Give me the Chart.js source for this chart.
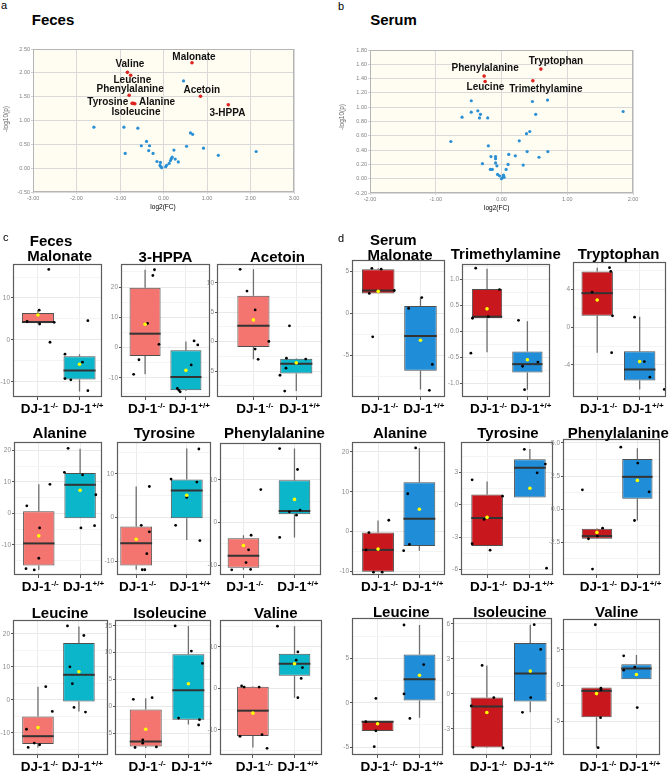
<!DOCTYPE html>
<html>
<head>
<meta charset="utf-8">
<script src="https://cdn.jsdelivr.net/npm/chart.js@4.4.1/dist/chart.umd.min.js"></script>
<style>
  html, body { margin: 0; padding: 0; background: #fff; }
  #page { position: relative; width: 669px; height: 772px; overflow: hidden;
          font-family: "Liberation Sans", Arial, sans-serif; }
  #page canvas { position: absolute; }
  .t { position: absolute; white-space: nowrap; color: #000; }
</style>
</head>
<body>
<div id="page"></div>
<script>
// ---- volcano data: [log2(FC), -log10(p)] ----
const fecesOther = [[-1.60,0.86],[-0.91,0.86],[-0.59,0.84],[-0.88,0.31],[-0.51,0.47],[-0.39,0.56],[-0.32,0.47],
  [-0.34,0.37],[-0.24,0.31],[-0.15,0.14],[-0.07,0.12],[-0.08,0.06],[-0.06,0.03],[-0.04,0.01],[0.05,0.03],
  [0.07,0.06],[0.13,0.10],[0.16,0.16],[0.18,0.20],[0.20,0.23],[0.24,0.38],[0.27,0.19],[0.34,0.13],[0.46,1.83],
  [0.53,0.46],[0.62,0.74],[0.67,0.71],[0.92,0.42],[1.26,0.27],[2.13,0.35]];
const fecesSig = [[0.655,2.21],[-0.83,2.01],[-0.755,1.95],[-0.79,1.53],[-0.72,1.36],[-0.66,1.35],[-0.69,1.36],[0.85,1.51],[1.49,1.33]];
const fecesSigNames = ['Malonate','Valine','Leucine','Phenylalanine','Tyrosine','Alanine','Isoleucine','Acetoin','3-HPPA'];
const fecesXTicks = [-3,-2,-1,0,1,2,3];
const fecesYTicks = [-0.5,0,0.5,1,1.5,2,2.5];

const serumOther = [[-0.77,0.52],[-0.60,0.86],[-0.46,1.09],[-0.46,0.93],[-0.36,0.95],[-0.32,0.90],[-0.335,0.85],
  [-0.21,0.85],[-0.20,0.46],[-0.29,0.21],[-0.16,0.31],[-0.09,0.31],[-0.09,0.28],[-0.09,0.22],[-0.07,0.18],
  [-0.17,0.13],[-0.14,0.13],[-0.06,0.06],[-0.03,0.04],[0.00,0.00],[0.02,0.02],[0.03,0.05],[0.04,0.02],[0.07,0.13],
  [0.11,0.34],[0.10,0.20],[0.21,0.32],[0.27,0.53],[0.33,0.19],[0.39,0.38],[0.38,0.63],[0.43,0.66],[0.47,1.08],
  [0.52,0.90],[0.57,0.30],[0.70,1.10],[0.705,0.38],[1.85,0.94]];
const serumSig = [[-0.264,1.435],[-0.249,1.36],[0.599,1.533],[0.477,1.369]];
const serumSigNames = ['Phenylalanine','Leucine','Tryptophan','Trimethylamine'];
const serumXTicks = [-2,-1,0,1,2];
const serumYTicks = [-0.2,0,0.2,0.4,0.6,0.8,1.0,1.2,1.4,1.6,1.8];

// ---- box plots: per group [lowWhisker, q1, median, q3, highWhisker, mean], KO then WT ----
const groupBase = 'DJ-1';
const groupSup = ['-/-', '+/+'];

const fMalonateBox = [[3.8,4.0,4.3,6.4,7.1,5.95],[-12.3,-9.4,-7.3,-3.9,-3.4,-5.8]];
const fMalonatePts = [[1.26,16.8],[1.03,7.1],[0.74,4.4],[1.04,3.8],[1.39,4.2],[1.29,-0.55],[1.65,-3.4],[2.07,-5.3],[1.65,-9.2],[1.79,-9.5],[2.2,4.6],[2.2,-12.1]];
const fMalonateTicks = [10,0,-10];

const fHppaBox = [[-8.8,-2.75,4.6,19.8,25.7,7.7],[-14.3,-14.1,-9.7,-0.9,2.0,-7.5]];
const fHppaPts = [[1.23,25.7],[1.19,23.8],[1.06,8.0],[1.34,1.1],[0.85,-4.0],[0.72,-8.8],[2.2,2.2],[2.29,0.9],[2.13,-5.7],[1.79,-13.5],[1.83,-14.1],[1.86,-14.6]];
const fHppaTicks = [20,10,0,-10];

const fAcetoinBox = [[-3.0,-0.9,2.7,7.8,12.3,3.7],[-8.4,-5.4,-3.75,-2.9,-2.8,-3.6]];
const fAcetoinPts = [[0.69,12.3],[0.85,8.6],[1.04,5.4],[1.36,0.05],[1.04,-1.25],[1.11,-3.0],[1.84,2.7],[1.62,-5.7],[1.76,-4.5],[1.77,-2.8],[2.22,-2.95],[1.73,-8.4]];
const fAcetoinTicks = [10,5,0,-5];

const fAlanineBox = [[-17.9,-16.5,-9.5,0.7,9.2,-7.1],[-1.5,-1.5,9.05,12.8,20.5,7.3]];
const fAlaninePts = [[1.27,9.2],[0.71,2.4],[1.02,-4.6],[1.0,-14.2],[0.69,-17.5],[0.89,-17.9],[1.71,20.6],[1.62,13.0],[2.06,12.2],[2.38,5.9],[2.02,-4.6],[2.35,-3.9]];
const fAlanineTicks = [20,10,0,-10];

const fTyrosineBox = [[-12.0,-11.0,-5.9,-2.1,7.1,-5.0],[-5.2,-0.2,6.2,8.7,15.8,5.1]];
const fTyrosinePts = [[1.26,7.1],[1.10,-1.8],[1.26,-3.3],[1.21,-8.3],[1.12,-12.0],[1.17,-12.0],[1.69,8.8],[2.2,8.1],[2.24,15.7],[2.0,4.6],[1.78,-1.8],[2.26,-5.3]];
const fTyrosineTicks = [10,0,-10];

const fPheBox = [[-11.1,-10.6,-7.8,-3.7,-3.0,-5.4],[-3.5,1.9,2.7,9.9,17.3,5.4]];
const fPhePts = [[1.34,7.7],[1.15,-3.0],[1.10,-6.4],[1.05,-9.4],[0.77,-11.1],[1.14,-11.0],[1.71,17.3],[2.06,12.4],[1.9,2.5],[2.11,2.9],[2.04,1.7],[1.71,-3.5]];
const fPheTicks = [10,0,-10];

const fLeucineBox = [[-14.4,-13.4,-11.0,-5.05,4.0,-8.4],[-3.5,-0.5,7.6,17.2,22.2,8.5]];
const fLeucinePts = [[1.19,4.0],[1.35,-3.5],[0.72,-8.9],[0.91,-13.1],[1.04,-13.6],[0.76,-14.4],[1.72,22.4],[2.12,19.5],[1.78,10.0],[1.84,4.9],[1.88,-2.3],[2.16,-3.7]];
const fLeucineTicks = [20,10,0,-10];

const fIsoBox = [[-7.8,-7.5,-6.6,-0.6,1.5,-4.3],[-3.4,-2.5,3.0,9.7,15.0,4.2]];
const fIsoPts = [[0.71,1.3],[1.15,1.6],[0.93,-6.3],[0.93,-6.9],[0.75,-7.7],[1.25,-7.6],[1.69,15.0],[2.07,10.3],[2.33,8.0],[1.77,-2.2],[2.26,-2.5],[2.24,-3.5]];
const fIsoTicks = [15,10,5,0,-5];

const fValineBox = [[-14.3,-11.5,-5.4,0.4,0.5,-6.0],[-2.25,3.05,5.95,8.35,15.0,5.95]];
const fValinePts = [[0.73,0.56],[0.79,0.3],[1.15,0.3],[0.69,-11.6],[1.22,-11.2],[1.34,-14.5],[1.59,15.0],[2.08,8.8],[2.04,6.8],[2.19,5.0],[2.16,2.4],[2.08,-2.25]];
const fValineTicks = [10,0,-10];

const sMalonateBox = [[2.4,2.4,2.75,5.3,5.4,2.65],[-9.1,-6.85,-2.7,0.9,1.9,-3.2]];
const sMalonatePts = [[0.85,5.4],[1.07,5.3],[1.38,2.75],[0.79,2.4],[0.87,-2.8],[2.03,1.9],[1.72,0.6],[2.28,-6.1],[2.21,-9.2]];
const sMalonateTicks = [5,0,-5];

const sTmaBox = [[-0.40,0.25,0.28,0.81,1.2,0.43],[-1.12,-0.79,-0.63,-0.39,0.19,-0.545]];
const sTmaPts = [[0.72,1.21],[1.31,0.80],[0.64,0.25],[1.03,0.28],[0.6,-0.42],[1.78,0.21],[2.26,-0.59],[1.88,-0.67],[1.93,-1.12]];
const sTmaTicks = [1.0,0.5,0,-0.5,-1.0];

const sTrpBox = [[-2.7,1.2,3.6,5.9,6.3,2.87],[-6.6,-5.65,-4.5,-2.55,1.1,-3.65]];
const sTrpPts = [[1.29,6.3],[1.32,5.9],[0.88,3.7],[1.36,1.2],[1.34,-2.7],[1.88,1.06],[2.11,-3.65],[2.24,-5.3],[2.58,-6.6]];
const sTrpTicks = [4,0,-4];

const sAlanineBox = [[-10.1,-10.1,-4.6,-0.25,2.8,-4.4],[-4.8,-3.6,3.2,12.4,21.0,5.6]];
const sAlaninePts = [[0.78,-0.25],[1.26,2.85],[0.71,-4.6],[0.89,-10.2],[1.1,-10.2],[1.91,21.0],[1.72,9.5],[1.76,-3.2],[1.62,-4.8]];
const sAlanineTicks = [20,10,0,-10];

const sTyrosineBox = [[-3.82,-3.82,-1.21,0.96,2.17,-1.15],[0.68,0.68,3.45,4.25,5.2,1.55]];
const sTyrosinePts = [[0.65,2.33],[1.36,0.81],[0.93,-1.34],[0.65,-3.6],[1.07,-4.2],[1.87,5.16],[2.36,3.79],[2.17,2.98],[2.39,-5.87]];
const sTyrosineTicks = [3,0,-3,-6];

const sPheBox = [[-2.24,-2.24,-2.04,-1.49,-1.44,-1.76],[-0.86,0.78,2.44,3.78,4.61,2.17]];
const sPhePts = [[1.14,-1.44],[1.01,-2.04],[0.79,-2.24],[0.64,1.46],[0.89,-4.53],[1.59,4.68],[2.01,3.48],[2.29,1.31],[1.93,-0.86]];
const sPheTicks = [5.0,2.5,0,-2.5];

const sLeucineBox = [[-3.18,-3.18,-2.13,-2.06,-2.06,-2.36],[-1.69,0.26,2.66,5.43,8.76,3.1]];
const sLeucinePts = [[0.72,-2.13],[0.96,0.49],[0.96,-3.15],[0.92,-4.94],[1.63,8.76],[2.1,4.3],[1.63,1.0],[1.77,-1.76]];
const sLeucineTicks = [5,0,-5];

const sIsoBox = [[-4.64,-4.6,-1.09,-0.32,2.44,-1.6],[-1.58,-0.66,1.75,4.36,5.93,1.95]];
const sIsoPts = [[0.89,2.44],[1.16,-0.32],[0.64,-1.03],[0.68,-4.58],[1.37,-4.64],[2.09,5.93],[2.24,3.81],[2.01,-0.32],[1.82,-1.58]];
const sIsoTicks = [6,3,0,-3];

const sValineBox = [[-8.73,-4.46,-0.75,-0.28,-0.28,-1.13],[0.89,0.89,2.39,3.0,4.3,1.55]];
const sValinePts = [[0.97,8.54],[1.11,-0.38],[1.11,-0.61],[1.1,-4.51],[1.04,-8.73],[1.68,4.18],[1.68,2.16],[1.96,2.58],[2.02,-3.1]];
const sValineTicks = [5,0,-5];

// ---- layout (pixels) ----
const page = document.getElementById('page');
Chart.defaults.font.family = '"Liberation Sans", Arial, sans-serif';

const palC = ['#F4746F', '#0BB5CA'];
const palD = ['#C8171D', '#1F8DD8'];

// L,T,R,B = panel frame; x0,x1 = x range; w = box width; y0,y1 = y range; tx,ty = title centre / baseline
const boxCharts = [
  { title: 'Malonate', box: fMalonateBox, pts: fMalonatePts, ticks: fMalonateTicks, dec: 0, pal: palC, L: 13, T: 264, R: 102, B: 397, x0: 0.40, x1: 2.54, w: 0.77, y0: -13.6, y1: 18.1, tx: 59.7, ty: 261 },
  { title: '3-HPPA', box: fHppaBox, pts: fHppaPts, ticks: fHppaTicks, dec: 0, pal: palC, L: 121, T: 264, R: 210, B: 397, x0: 0.41, x1: 2.59, w: 0.76, y0: -16.3, y1: 27.6, tx: 165.5, ty: 262 },
  { title: 'Acetoin', box: fAcetoinBox, pts: fAcetoinPts, ticks: fAcetoinTicks, dec: 0, pal: palC, L: 217, T: 264, R: 322, B: 397, x0: 0.15, x1: 2.6, w: 0.75, y0: -9.4, y1: 13.2, tx: 277.5, ty: 262 },
  { title: 'Alanine', box: fAlanineBox, pts: fAlaninePts, ticks: fAlanineTicks, dec: 0, pal: palC, L: 14, T: 442, R: 102, B: 575, x0: 0.40, x1: 2.53, w: 0.76, y0: -19.5, y1: 22.6, tx: 59.7, ty: 437.7 },
  { title: 'Tyrosine', box: fTyrosineBox, pts: fTyrosinePts, ticks: fTyrosineTicks, dec: 0, pal: palC, L: 117, T: 442, R: 211, B: 575, x0: 0.62, x1: 2.48, w: 0.63, y0: -13.2, y1: 17.3, tx: 164.5, ty: 437.7 },
  { title: 'Phenylalanine', box: fPheBox, pts: fPhePts, ticks: fPheTicks, dec: 0, pal: palC, L: 220, T: 443, R: 321, B: 575, x0: 0.54, x1: 2.52, w: 0.62, y0: -12.3, y1: 18.6, tx: 274.5, ty: 437.7 },
  { title: 'Leucine', box: fLeucineBox, pts: fLeucinePts, ticks: fLeucineTicks, dec: 0, pal: palC, L: 13, T: 620, R: 108, B: 755, x0: 0.39, x1: 2.71, w: 0.77, y0: -16.7, y1: 24.2, tx: 60, ty: 617.3 },
  { title: 'Isoleucine', box: fIsoBox, pts: fIsoPts, ticks: fIsoTicks, dec: 0, pal: palC, L: 115, T: 620, R: 211, B: 755, x0: 0.28, x1: 2.53, w: 0.75, y0: -9.1, y1: 16.1, tx: 170, ty: 617.3 },
  { title: 'Valine', box: fValineBox, pts: fValinePts, ticks: fValineTicks, dec: 0, pal: palC, L: 220, T: 620, R: 322, B: 755, x0: 0.21, x1: 2.66, w: 0.76, y0: -16.1, y1: 16.5, tx: 275.8, ty: 617.3 },
  { title: 'Malonate', box: sMalonateBox, pts: sMalonatePts, ticks: sMalonateTicks, dec: 0, pal: palD, L: 352, T: 260, R: 445, B: 397, x0: 0.38, x1: 2.58, w: 0.77, y0: -10.0, y1: 6.4, tx: 400, ty: 259.3 },
  { title: 'Trimethylamine', box: sTmaBox, pts: sTmaPts, ticks: sTmaTicks, dec: 1, pal: palD, L: 462, T: 264, R: 550, B: 397, x0: 0.38, x1: 2.56, w: 0.75, y0: -1.26, y1: 1.29, tx: 505.8, ty: 258.5 },
  { title: 'Tryptophan', box: sTrpBox, pts: sTrpPts, ticks: sTrpTicks, dec: 0, pal: palD, L: 573, T: 262, R: 666, B: 397, x0: 0.43, x1: 2.62, w: 0.74, y0: -7.4, y1: 6.9, tx: 618.7, ty: 258.5 },
  { title: 'Alanine', box: sAlanineBox, pts: sAlaninePts, ticks: sAlanineTicks, dec: 0, pal: palD, L: 352, T: 442, R: 445, B: 575, x0: 0.37, x1: 2.62, w: 0.77, y0: -10.9, y1: 22.5, tx: 400, ty: 438 },
  { title: 'Tyrosine', box: sTyrosineBox, pts: sTyrosinePts, ticks: sTyrosineTicks, dec: 0, pal: palD, L: 461, T: 442, R: 553, B: 575, x0: 0.39, x1: 2.54, w: 0.74, y0: -6.5, y1: 5.84, tx: 508, ty: 438 },
  { title: 'Phenylalanine', box: sPheBox, pts: sPhePts, ticks: sPheTicks, dec: 1, pal: palD, L: 563, T: 439, R: 660, B: 575, x0: 0.16, x1: 2.56, w: 0.75, y0: -4.98, y1: 5.3, tx: 618.3, ty: 438 },
  { title: 'Leucine', box: sLeucineBox, pts: sLeucinePts, ticks: sLeucineTicks, dec: 0, pal: palD, L: 352, T: 618, R: 443, B: 755, x0: 0.39, x1: 2.56, w: 0.76, y0: -5.88, y1: 9.55, tx: 401.3, ty: 617 },
  { title: 'Isoleucine', box: sIsoBox, pts: sIsoPts, ticks: sIsoTicks, dec: 0, pal: palD, L: 453, T: 618, R: 552, B: 755, x0: 0.22, x1: 2.5, w: 0.75, y0: -5.24, y1: 6.5, tx: 510, ty: 617 },
  { title: 'Valine', box: sValineBox, pts: sValinePts, ticks: sValineTicks, dec: 0, pal: palD, L: 563, T: 619, R: 660, B: 755, x0: 0.16, x1: 2.59, w: 0.76, y0: -9.76, y1: 9.35, tx: 616.7, ty: 617 }
];

// label offsets (px) from each significant point to the centre of its label
const fecesLabelOff = [[2,-6.3],[2.5,-8.7],[1.7,3.7],[1,-7],[-24.4,-2.1],[22.2,-2.5],[2.5,8.4],[1.3,-6.7],[-0.9,7.3]];
const serumLabelOff = [[1,-8.8],[0.3,5.4],[15.1,-8.5],[13,7.1]];

// ---- helpers ----
function addText(str, x, base, size, bold, align) {
  const d = document.createElement('div');
  d.className = 't';
  d.textContent = str;
  d.style.fontSize = size + 'px';
  d.style.lineHeight = size + 'px';
  d.style.fontWeight = bold ? 'bold' : 'normal';
  d.style.top = (base - 0.8465 * size) + 'px';
  d.style.left = x + 'px';
  if (align !== 'left') d.style.transform = 'translateX(-50%)';
  page.appendChild(d);
}
function addRotated(str, cx, cy, size) {
  const d = document.createElement('div');
  d.className = 't';
  d.textContent = str;
  d.style.fontSize = size + 'px';
  d.style.lineHeight = size + 'px';
  d.style.color = '#666';
  d.style.left = cx + 'px';
  d.style.top = cy + 'px';
  d.style.transform = 'translate(-50%,-50%) rotate(-90deg)';
  page.appendChild(d);
}
function canvasAt(L, T, R, B, pad) {
  const cv = document.createElement('canvas');
  const W = R - L + pad.l + pad.r, H = B - T + pad.t + pad.b;
  cv.width = W; cv.height = H;
  cv.style.left = (L - pad.l) + 'px';
  cv.style.top = (T - pad.t) + 'px';
  cv.style.width = W + 'px';
  cv.style.height = H + 'px';
  page.appendChild(cv);
  return cv;
}

// ---- volcano plots ----
function volcano(other, sig, names, offs, xt, yt, L, T, R, B) {
  const pad = { l: 30, t: 8, r: 10, b: 14 };
  const cv = canvasAt(L, T, R, B, pad);
  const fmt = v => Number(v).toFixed(2);
  const volPlugin = {
    id: 'vol',
    beforeDraw(chart) {
      const a = chart.chartArea, c = chart.ctx;
      c.save(); c.fillStyle = '#FFFDF1';
      c.fillRect(a.left, a.top, a.right - a.left, a.bottom - a.top);
      c.restore();
    },
    afterDatasetsDraw(chart) {
      const c = chart.ctx, xs = chart.scales.x, ys = chart.scales.y;
      c.save();
      c.font = 'bold 10px "Liberation Sans", Arial, sans-serif';
      c.fillStyle = '#111';
      c.textAlign = 'center';
      c.textBaseline = 'alphabetic';
      sig.forEach((p, i) => {
        const px = xs.getPixelForValue(p[0]) + offs[i][0];
        const py = ys.getPixelForValue(p[1]) + offs[i][1] + 3.6;
        c.fillText(names[i], px, py);
      });
      c.restore();
    },
    afterDraw(chart) {
      const a = chart.chartArea, c = chart.ctx;
      c.save(); c.strokeStyle = '#b5b5b5'; c.lineWidth = 1;
      c.strokeRect(a.left + 0.5, a.top + 0.5, a.right - a.left - 1, a.bottom - a.top - 1);
      c.restore();
    }
  };
  new Chart(cv, {
    type: 'scatter',
    data: { datasets: [
      { data: other.map(p => ({ x: p[0], y: p[1] })), backgroundColor: '#2A8FD4', pointRadius: 1.6, pointBorderWidth: 0 },
      { data: sig.map(p => ({ x: p[0], y: p[1] })), backgroundColor: '#E0221E', pointRadius: 1.8, pointBorderWidth: 0 }
    ] },
    options: {
      responsive: false, animation: false, events: [],
      layout: { padding: { top: pad.t, right: pad.r, left: 0, bottom: 0 } },
      plugins: { legend: { display: false }, tooltip: { enabled: false } },
      scales: {
        x: {
          type: 'linear', min: xt[0], max: xt[xt.length - 1],
          afterBuildTicks: a => { a.ticks = xt.map(v => ({ value: v })); },
          afterFit: a => { a.height = pad.b; a.paddingLeft = 0; a.paddingRight = 0; },
          ticks: { callback: fmt, font: { size: 5.5 }, color: '#808080', padding: 1, maxRotation: 0, autoSkip: false },
          grid: { color: '#d9d9d9', lineWidth: 1, tickLength: 2, tickColor: '#cfcfcf' },
          border: { display: false }
        },
        y: {
          type: 'linear', min: yt[0], max: yt[yt.length - 1],
          afterBuildTicks: a => { a.ticks = yt.map(v => ({ value: v })); },
          afterFit: a => { a.width = pad.l; a.paddingTop = 0; a.paddingBottom = 0; },
          ticks: { callback: fmt, font: { size: 5.5 }, color: '#808080', padding: 1, autoSkip: false },
          grid: { color: '#d9d9d9', lineWidth: 1, tickLength: 2, tickColor: '#cfcfcf' },
          border: { display: false }
        }
      }
    },
    plugins: [volPlugin]
  });
}

volcano(fecesOther, fecesSig, fecesSigNames, fecesLabelOff, fecesXTicks, fecesYTicks, 33, 49, 294, 192);
volcano(serumOther, serumSig, serumSigNames, serumLabelOff, serumXTicks, serumYTicks, 370, 50, 633, 193);

// ---- box plots ----
function boxChart(d) {
  const pad = { l: 16, t: 6, r: 10, b: 22 };
  const cv = canvasAt(d.L, d.T, d.R, d.B, pad);
  const step = Math.abs(d.ticks[0] - d.ticks[1]);
  const all = d.ticks.map(v => ({ value: v, minor: false }));
  d.ticks.forEach(m => {
    [m - step / 2, m + step / 2].forEach(v => {
      if (v > d.y0 && v < d.y1 && !all.some(t => Math.abs(t.value - v) < 1e-9)) all.push({ value: v, minor: true });
    });
  });
  all.sort((a, b) => a.value - b.value);

  const parts = {
    id: 'boxParts',
    beforeDatasetsDraw(chart) {
      const meta = chart.getDatasetMeta(0), ys = chart.scales.y, c = chart.ctx;
      c.save(); c.strokeStyle = '#6f6f6f'; c.lineWidth = 1.3;
      meta.data.forEach((bar, k) => {
        const s = d.box[k];
        c.beginPath();
        c.moveTo(bar.x, ys.getPixelForValue(s[4])); c.lineTo(bar.x, ys.getPixelForValue(s[3]));
        c.moveTo(bar.x, ys.getPixelForValue(s[1])); c.lineTo(bar.x, ys.getPixelForValue(s[0]));
        c.stroke();
      });
      c.restore();
    },
    afterDatasetDraw(chart, args) {
      if (args.index !== 0) return;
      const meta = chart.getDatasetMeta(0), ys = chart.scales.y, c = chart.ctx;
      c.save(); c.strokeStyle = '#333'; c.lineWidth = 2;
      meta.data.forEach((bar, k) => {
        const y = ys.getPixelForValue(d.box[k][2]);
        c.beginPath();
        c.moveTo(bar.x - bar.width / 2, y); c.lineTo(bar.x + bar.width / 2, y);
        c.stroke();
      });
      c.restore();
    },
    afterDraw(chart) {
      const a = chart.chartArea, c = chart.ctx, xs = chart.scales.x;
      c.save();
      c.strokeStyle = '#5c5c5c'; c.lineWidth = 1.2;
      c.strokeRect(a.left + 0.5, a.top + 0.5, a.right - a.left - 1, a.bottom - a.top - 1);
      c.fillStyle = '#000';
      c.textBaseline = 'alphabetic';
      const baseFont = 'bold 13.5px "Liberation Sans", Arial, sans-serif';
      const supFont = 'bold 8px "Liberation Sans", Arial, sans-serif';
      groupSup.forEach((sup, k) => {
        const x = xs.getPixelForValue(k + 1);
        c.font = baseFont;
        const w1 = c.measureText(groupBase).width;
        const x0 = x - 2.5 - w1 / 2, base = a.bottom + 16;
        c.textAlign = 'left';
        c.fillText(groupBase, x0, base);
        c.font = supFont;
        c.fillText(sup, x0 + w1 + 0.3, base - 5.5);
      });
      c.restore();
    }
  };

  new Chart(cv, {
    type: 'bar',
    data: { datasets: [
      { type: 'bar', data: d.box.map((s, k) => ({ x: k + 1, y: [s[1], s[3]] })), backgroundColor: d.pal,
        borderColor: '#4f4f4f', borderWidth: 1, borderSkipped: false, grouped: false,
        barPercentage: d.w, categoryPercentage: 1, order: 3 },
      { type: 'scatter', data: d.pts.map(p => ({ x: p[0], y: p[1] })), backgroundColor: '#000',
        pointRadius: 1.4, pointBorderWidth: 0, order: 2 },
      { type: 'scatter', data: d.box.map((s, k) => ({ x: k + 1, y: s[5] })), backgroundColor: '#FFFF00',
        pointRadius: 1.8, pointBorderWidth: 0, order: 1 }
    ] },
    options: {
      responsive: false, animation: false, events: [],
      layout: { padding: { top: pad.t, right: pad.r, left: 0, bottom: 0 } },
      plugins: { legend: { display: false }, tooltip: { enabled: false } },
      scales: {
        x: {
          type: 'linear', min: d.x0, max: d.x1, offset: false,
          afterBuildTicks: a => { a.ticks = [{ value: 1 }, { value: 2 }]; },
          afterFit: a => { a.height = pad.b; a.paddingLeft = 0; a.paddingRight = 0; },
          ticks: { display: false },
          grid: { offset: false, color: '#ebebeb', lineWidth: 1, tickLength: 3, tickColor: '#555', drawTicks: true },
          border: { display: false }
        },
        y: {
          type: 'linear', min: d.y0, max: d.y1,
          afterBuildTicks: a => { a.ticks = all.map(t => ({ value: t.value, minor: t.minor })); },
          afterFit: a => { a.width = pad.l; a.paddingTop = 0; a.paddingBottom = 0; },
          ticks: {
            font: { size: 6.5 }, color: '#8a8a8a', padding: 1, autoSkip: false,
            callback: (v, i, ts) => ts[i].minor ? '' : Number(v).toFixed(d.dec)
          },
          grid: {
            color: c => c.tick && c.tick.minor ? '#f4f4f4' : '#e9e9e9',
            tickColor: c => c.tick && c.tick.minor ? 'rgba(0,0,0,0)' : '#555',
            lineWidth: 1, tickLength: 2
          },
          border: { display: false }
        }
      }
    },
    plugins: [parts]
  });
  addText(d.title, d.tx, d.ty, 15, true);
}
boxCharts.forEach(boxChart);

// ---- panel texts ----
addText('a', 1, 9, 11, false, 'left');
addText('Feces', 53, 25, 15, true);
addText('b', 338, 10, 11, false, 'left');
addText('Serum', 393.5, 25, 15, true);
addText('c', 3, 241, 11, false, 'left');
addText('Feces', 51, 245.5, 15, true);
addText('d', 338, 242, 11, false, 'left');
addText('Serum', 393.3, 245, 15, true);
addText('log2(FC)', 163, 209.5, 6.5, false);
addText('log2(FC)', 496.7, 211, 6.5, false);
addRotated('-log10(p)', 6, 119, 6.5);
addRotated('-log10(p)', 342, 117, 6.5);
</script>
</body>
</html>
